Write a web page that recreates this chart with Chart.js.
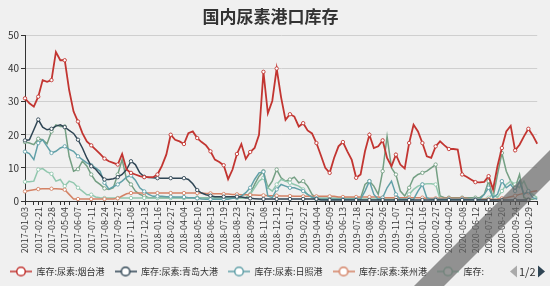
<!DOCTYPE html>
<html>
<head>
<meta charset="utf-8">
<script src="https://cdn.jsdelivr.net/npm/chart.js@4.4.1/dist/chart.umd.min.js"></script>
<style>
  html, body { margin: 0; padding: 0; background: #f0f0f0; }
  #wrap { width: 550px; height: 286px; }
</style>
</head>
<body>
<div id="wrap"><canvas id="c"></canvas></div>
<script>
const dates = [
  '2017-01-03','2017-01-13','2017-02-09','2017-02-21','2017-03-03','2017-03-16','2017-03-28','2017-04-12','2017-04-21',
  '2017-05-04','2017-05-16','2017-05-25','2017-06-07','2017-06-20','2017-06-29','2017-07-11','2017-07-27','2017-08-10',
  '2017-08-24','2017-09-06','2017-09-15','2017-09-27','2017-10-17','2017-10-26','2017-11-08','2017-11-21','2017-11-30',
  '2017-12-13','2017-12-26','2018-01-04','2018-01-16','2018-01-26','2018-02-08','2018-02-27','2018-03-13','2018-03-22',
  '2018-04-04','2018-04-18','2018-04-27','2018-05-10','2018-05-23','2018-06-01','2018-06-13','2018-06-28','2018-07-06',
  '2018-07-19','2018-08-01','2018-08-10','2018-08-23','2018-09-05','2018-09-14','2018-09-27','2018-10-17','2018-10-26',
  '2018-11-08','2018-11-21','2018-11-30','2018-12-12','2018-12-26','2019-01-04','2019-01-17','2019-01-30','2019-02-14',
  '2019-02-27','2019-03-13','2019-03-22','2019-04-04','2019-04-17','2019-04-26','2019-05-09','2019-05-22','2019-05-31',
  '2019-06-13','2019-06-26','2019-07-05','2019-07-18','2019-07-31','2019-08-09','2019-08-21','2019-09-04','2019-09-12',
  '2019-09-26','2019-10-16','2019-10-25','2019-11-07','2019-11-20','2019-11-29','2019-12-12','2019-12-25','2020-01-03',
  '2020-01-16','2020-02-05','2020-02-14','2020-02-27','2020-03-11','2020-03-20','2020-04-02','2020-04-15','2020-04-24',
  '2020-05-08','2020-05-20','2020-05-29','2020-06-12','2020-06-24','2020-07-03','2020-07-16','2020-07-29','2020-08-07',
  '2020-08-20','2020-09-02','2020-09-11','2020-09-24','2020-10-14','2020-10-20','2020-10-29','2020-11-11','2020-11-20'
];

// 库存:尿素:烟台港
const yantai = [
  31,29.5,28.5,31.5,36.5,36,36.5,45,42.5,42.5,33.5,27,24,20.5,18,16.8,15.5,14.2,12.8,12,11.5,11,14.2,9.5,
  8.5,8,7.5,7.2,7.2,7.2,8,10.6,14,20,18.5,18,17.2,20.5,21,19,17.8,16.8,15,12.5,11.8,10.8,6.6,9.5,14.2,17.2,
  12.7,14.8,16,20,39,26.5,30.2,40,31.3,24.5,26.2,25.5,22.5,23.5,21.3,20.4,17.5,13.8,10,8.5,13,16.5,17.8,15,
  12.4,7,8,15,20,16,16.5,18.3,13,10.5,14,11,9.8,17.5,23,21,17.5,13.5,13,16.5,18,16.8,15.7,15.7,15.5,8,7.3,
  6.5,5.7,5.6,5.8,7.5,3.5,10.5,16,21,22.7,15.3,17,19.5,21.8,19.8,17.3
];
// 库存:尿素:青岛大港
const qingdao = [
  18.3,18.5,21.5,24.6,22.3,21.5,21.8,22.6,23,22.3,21.3,20.4,18.5,16,13,10.5,9.6,8,6.5,6.5,6.7,7.2,8,9.5,
  12,11,8.5,7.3,7.1,7,6.9,6.9,6.9,6.9,6.9,6.9,6.9,6.5,5.2,3.3,2.4,1.9,1.6,1.3,1.3,1.3,1.3,1.3,1.3,1.2,
  1,0.8,0.7,0.6,0.6,0.6,0.6,0.6,0.6,0.6,0.6,0.6,0.6,0.6,0.6,0.6,0.6,0.3,0.3,0.3,0.3,0.3,0.3,0.3,0.3,0.3,
  0.3,0.3,0.3,0.3,0.3,0.3,0.3,0.3,0.3,0.3,0.3,0.3,0.3,0.3,0.3,0.3,0.3,0.3,0.3,0.3,0.3,0.3,0.3,0.3,0.3,0.3,
  0.3,0.3,0.3,0.3,0.3,0.3,0.3,0.3,0.3,0.3,0.3,0.3,0.3
];
// 库存:尿素:日照港
const rizhao = [
  14.9,14.3,12.5,17.5,18.5,16.5,14.5,15,16,16.5,15.6,15,13.5,12.5,11.5,10.8,10,9,5.5,3.6,4.3,5,6,7.2,7.7,
  6.3,4,2.9,2,1.4,1.4,1.4,1.3,1.3,1.2,1.2,1.2,1,1,0.8,0.6,0.5,0.5,0.5,0.5,0.5,0.5,0.8,1,1.5,2.5,
  4,6.5,8.5,8.8,1.5,1,3.5,5,4.5,4,4,3.5,3,2,1.2,0.8,
  0.5,0.5,0.5,0.5,0.5,0.5,0.5,0.5,0.5,0.5,3,6,2,0.5,1,4,6,2,0.5,0.5,0.5,0.5,3,5,1,
  0.5,0.5,0.5,0.5,0.5,0.5,0.5,0.5,0.5,0.5,0.5,0.5,2,4,1,2,6,4,5,3,6,2,3,1,0.5
];
// 库存:尿素:莱州港
const laizhou = [
  2.9,3.2,3.4,3.6,3.7,3.7,3.7,3.7,3.6,3.4,2,0.6,0.6,0.6,0.6,0.6,0.6,0.6,0.6,0.6,0.6,0.8,1.5,2.2,
  2.4,2.4,2.4,2.4,2.4,2.4,2.4,2.4,2.4,2.4,2.4,2.4,2.4,2.4,2.4,2.4,2.4,
  2.3,2.3,2.2,2.2,2.1,2.1,2,2,1.9,1.9,1.8,1.8,1.7,1.7,1.6,1.6,1.6,1.5,1.5,1.5,
  1.4,1.4,1.4,1.4,1.4,1.4,1.4,1.4,1.4,1.4,1.2,1.2,1.2,1.2,1.2,1.2,1.2,1.2,1.2,1.2,
  1,1,1,1,1,1,1,1,1,1,0.8,0.8,0.8,0.8,0.8,0.8,0.8,0.8,0.8,0.8,
  0.5,0.5,0.5,0.5,0.5,0.5,0.6,0.8,1,1.3,1.6,2,2.3,2.6,2.9,3.1
];
// 库存:尿素:龙口港
const longkou = [
  5.8,5.8,6,9.5,9.8,8.8,8.2,6,6.5,4.5,6,5.5,4,3,1.9,1.9,1.2,1,
  0.9,0.9,0.9,0.9,0.9,0.9,0.9,0.9,0.9,0.9,0.9,0.9,0.9,0.9,0.9,0.9,0.9,0.9,0.9,0.9,0.9,0.9,0.9,0.9,0.9,
  0.9,0.9,0.9,0.9,0.9,0.9,0.9,0.9,
  2,4,6,7,4,3,5,6.5,6,5.5,5,4.5,3.5,2,1,0.5,
  0.6,0.6,0.6,0.6,0.6,0.6,0.6,0.6,0.6,0.6,0.6,0.6,0.6,0.6,0.6,0.6,0.6,0.6,0.6,0.6,
  2,3.5,4.5,5,5.2,5.2,5,0.6,0.6,0.6,0.6,0.6,0.6,0.6,0.6,0.6,0.6,0.6,
  1,2,1,3,5,6,5,4,6,3,2,1
];
// 库存:尿素:京唐港
const jingtang = [
  17.8,17.5,17,18.8,18.5,17.3,21,23,22.5,22.5,13.5,9,9.6,12,10.6,8,6,5,3.8,3.5,4,8,12.5,6.5,5,3,2,1.5,1,
  1,1,1,1,1,1,1,1,1,1,1,1,1,1,1,1,1,1,1,1,1,1,
  2,5,7.5,9,4,6,9.5,7,6,6.5,7.2,5.5,6,4.5,2,0.8,
  0.8,0.8,0.8,0.8,0.8,0.8,0.8,0.8,0.8,0.8,5,6,4.5,2,9,19.5,10,8,3,1.5,4,7,8,8.5,9,10,11,1.5,1,
  1,1,1,1,1,1,1,1,2,6,1,8,14.5,9,6,4,8,1,0.5,0.5,1
];

const seriesNames = ['库存:尿素:烟台港','库存:尿素:青岛大港','库存:尿素:日照港','库存:尿素:莱州港','库存:尿素:龙口港','库存:尿素:京唐港'];
const seriesData = [yantai, qingdao, rizhao, laizhou, longkou, jingtang];
const colors = ['#c23531','#2f4554','#61a0a8','#d48265','#91c7ae','#749f83'];
const yTicks = [0, 10, 20, 30, 40, 50];

const FONT = "'Noto Sans CJK SC', 'Noto Sans', sans-serif";

function legendIcon(color) {
  const cv = document.createElement('canvas');
  cv.width = 22; cv.height = 12;
  const g = cv.getContext('2d');
  g.strokeStyle = color; g.lineWidth = 1.5;
  g.beginPath(); g.moveTo(0, 6); g.lineTo(22, 6); g.stroke();
  g.beginPath(); g.arc(11, 6, 4.3, 0, Math.PI * 2);
  g.fillStyle = '#fff'; g.fill(); g.stroke();
  return cv;
}

const datasets = seriesData.map((d, i) => ({
  label: seriesNames[i],
  data: d,
  borderColor: colors[i],
  backgroundColor: colors[i],
  borderWidth: i === 0 ? 1.8 : 1.5,
  pointRadius: ctx => (ctx.dataIndex % 3 === 0 ? 1.7 : 0),
  pointBackgroundColor: '#fff',
  pointBorderColor: colors[i],
  pointBorderWidth: 0.9,
  tension: 0,
  order: i === 0 ? 0 : i
}));

const extras = {
  id: 'extras',
  afterDraw(chart) {
    const ctx = chart.ctx;
    const lg = chart.legend;
    const y = lg.legendHitBoxes.length ? lg.legendHitBoxes[0].top + lg.legendHitBoxes[0].height / 2 : 270;
    ctx.save();
    // legend pager
    ctx.fillStyle = '#aaa';
    ctx.beginPath(); ctx.moveTo(517, y - 6); ctx.lineTo(510, y); ctx.lineTo(517, y + 6); ctx.closePath(); ctx.fill();
    ctx.fillStyle = '#333';
    ctx.font = '11px ' + FONT;
    ctx.textBaseline = 'middle';
    ctx.fillText('1/2', 519, y);
    ctx.fillStyle = '#2f4554';
    ctx.beginPath(); ctx.moveTo(538, y - 6); ctx.lineTo(545, y); ctx.lineTo(538, y + 6); ctx.closePath(); ctx.fill();
    // watermark band
    ctx.fillStyle = 'rgba(100,100,100,0.68)';
    ctx.beginPath();
    ctx.moveTo(550, 150); ctx.lineTo(580, 150);
    ctx.lineTo(440, 290); ctx.lineTo(410, 290);
    ctx.closePath(); ctx.fill();
    ctx.restore();
  }
};

new Chart(document.getElementById('c'), {
  type: 'line',
  data: { labels: dates, datasets },
  options: {
    responsive: true,
    maintainAspectRatio: false,
    animation: false,
    layout: { padding: { left: 0, right: 9, top: 0, bottom: 0 } },
    plugins: {
      title: {
        display: true,
        text: '国内尿素港口库存',
        color: '#333',
        font: { family: FONT, size: 17, weight: 'bold' },
        padding: { top: 6, bottom: 9 }
      },
      legend: {
        position: 'bottom',
        align: 'start',
        labels: {
          usePointStyle: true,
          pointStyleWidth: 22,
          boxHeight: 10,
          padding: 10,
          color: '#333',
          font: { family: FONT, size: 9 },
          filter: item => item.datasetIndex < 5,
          generateLabels(chart) {
            const items = Chart.defaults.plugins.legend.labels.generateLabels(chart);
            items.forEach(it => {
              it.pointStyle = legendIcon(colors[it.datasetIndex]);
              if (it.datasetIndex === 4) it.text = '库存:';
            });
            return items;
          }
        }
      },
      tooltip: { enabled: false }
    },
    scales: {
      x: {
        offset: false,
        border: { color: '#333', width: 1 },
        grid: { drawOnChartArea: false, drawTicks: true, tickLength: 4, color: '#333' },
        ticks: {
          autoSkip: false,
          maxRotation: 90,
          minRotation: 90,
          padding: 2,
          color: '#333',
          font: { family: FONT, size: 9 },
          callback(v, i) {
            if (i % 3 === 0) return dates[i];
            if (i % 2 === 0) return '';
            return null;
          }
        },
        afterFit(s) { s.height = 56; }
      },
      y: {
        min: 0,
        max: 50,
        border: { color: '#333', width: 1 },
        grid: { color: '#cfcfcf', tickColor: '#333', tickLength: 4 },
        afterBuildTicks(s) { s.ticks = yTicks.map(v => ({ value: v })); },
        ticks: { color: '#333', padding: 2, font: { family: FONT, size: 10 } },
        afterFit(s) { s.width = 25; }
      }
    }
  },
  plugins: [extras]
});
</script>
</body>
</html>
